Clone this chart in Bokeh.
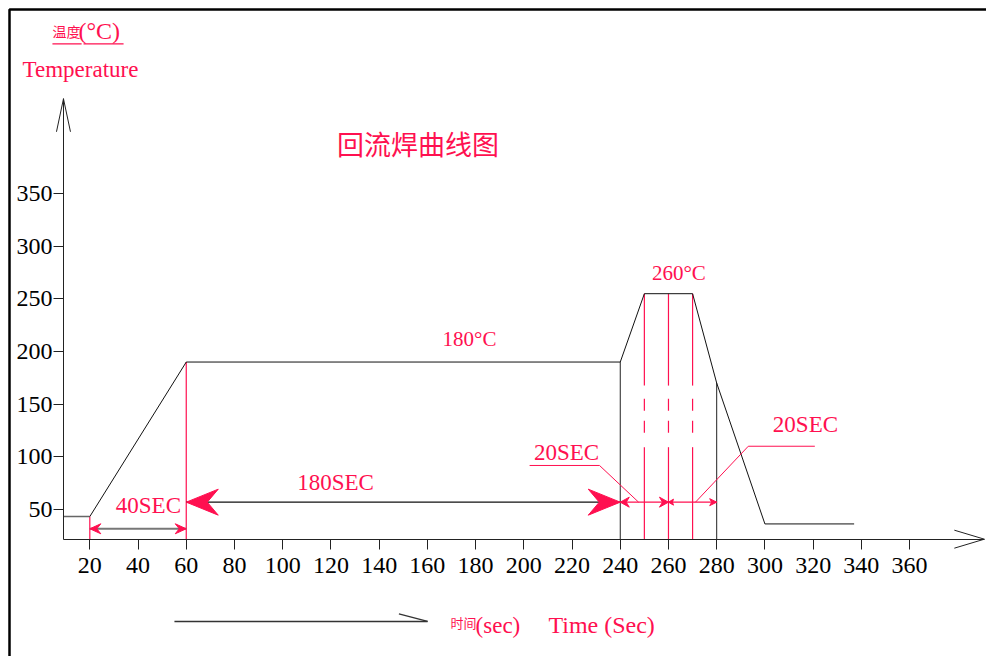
import numpy as np
from bokeh.plotting import figure
from bokeh.models import Range1d, LinearAxis, FixedTicker, ColumnDataSource
from bokeh.core.properties import value
from bokeh.embed import file_html
from bokeh.resources import INLINE

# ---------------- data ----------------
TIME = [9, 20, 60, 240, 250, 270, 280, 300, 337]      # s
TEMP = [43, 43, 190, 190, 255, 255, 170, 36, 36]      # degC
X_TICKS = [20, 40, 60, 80, 100, 120, 140, 160, 180, 200, 220, 240, 260, 280, 300, 320, 340, 360]
Y_TICKS = [50, 100, 150, 200, 250, 300, 350]
RED_MARKS = [20, 60]            # red vertical guide lines
BLACK_MARKS = [240, 280]        # black vertical guide lines
PEAK_MARKS = [250, 260, 270]    # red guide lines through the peak
SPAN_40 = [20, 60]
SPAN_180 = [60, 240]
SPAN_20A = [240, 260]
SPAN_20B = [260, 280]

RED = "#ff1050"
SERIF = "Liberation Serif"
CJK = "Noto Sans CJK SC"

# ---------------- figure ----------------
W, H = 986, 656
X0, X1 = -17.04, 391.9
Y0, Y1 = -90.1, 533.9
SX = W / (X1 - X0)   # px per second
SY = H / (Y1 - Y0)   # px per degree

X_AXIS_AT = 21.5
Y_AXIS_AT = 9.08
X_AXIS_END = 391.0
Y_AXIS_END = 440.4

p = figure(width=W, height=H, x_range=Range1d(X0, X1), y_range=Range1d(Y0, Y1),
           output_backend="svg", toolbar_location=None, min_border=0,
           x_axis_type=None, y_axis_type=None)
p.outline_line_color = None
p.background_fill_color = "white"
p.border_fill_color = "white"

common = dict(major_tick_in=0, major_tick_out=10, minor_tick_in=0, minor_tick_out=0,
              major_label_text_font=SERIF, major_label_text_font_size="24px",
              major_label_text_color="black", axis_line_color="#222",
              major_tick_line_color="#222")
xaxis = LinearAxis(fixed_location=X_AXIS_AT, bounds=(Y_AXIS_AT, X_AXIS_END),
                   ticker=FixedTicker(ticks=X_TICKS), major_label_standoff=9, **common)
yaxis = LinearAxis(fixed_location=Y_AXIS_AT, bounds=(X_AXIS_AT, Y_AXIS_END),
                   ticker=FixedTicker(ticks=Y_TICKS), major_label_standoff=1, **common)
p.add_layout(xaxis, "below")
p.add_layout(yaxis, "left")

# axis arrow heads
p.multi_line(xs=[[Y_AXIS_AT - 7 / SX, Y_AXIS_AT, Y_AXIS_AT + 7 / SX],
                 [X_AXIS_END - 30 / SX, X_AXIS_END, X_AXIS_END - 30 / SX]],
             ys=[[Y_AXIS_END - 33 / SY, Y_AXIS_END, Y_AXIS_END - 33 / SY],
                 [X_AXIS_AT + 9 / SY, X_AXIS_AT, X_AXIS_AT - 9 / SY]],
             line_color="#222", line_width=1)

# page border (top and left)
bx = X0 + 9 / SX
by = Y1 - 9 / SY
p.line([bx, bx, X1], [Y0, by, by], line_color="black", line_width=2.5)

# ---------------- guide lines ----------------
def prof(t):
    return float(np.interp(t, TIME, TEMP))

# red guides at 20 / 60
p.segment(x0=RED_MARKS, y0=[prof(t) for t in RED_MARKS], x1=RED_MARKS,
          y1=[X_AXIS_AT] * len(RED_MARKS), line_color=RED, line_width=1.2)
# black guides at 240 / 280
p.segment(x0=BLACK_MARKS, y0=[prof(t) for t in BLACK_MARKS], x1=BLACK_MARKS,
          y1=[X_AXIS_AT] * len(BLACK_MARKS), line_color="#222", line_width=1)
# peak guides: solid - dashed - solid
top_cut, dash_a, dash_b, bot_cut = 167.6, 155.0, 121.7, 109.0
p.segment(x0=PEAK_MARKS, y0=[prof(t) for t in PEAK_MARKS], x1=PEAK_MARKS,
          y1=[top_cut] * 3, line_color=RED, line_width=1.2)
p.segment(x0=PEAK_MARKS, y0=[bot_cut] * 3, x1=PEAK_MARKS,
          y1=[X_AXIS_AT] * 3, line_color=RED, line_width=1.2)
p.segment(x0=PEAK_MARKS, y0=[dash_a] * 3, x1=PEAK_MARKS,
          y1=[dash_b] * 3, line_color=RED, line_width=1.2, line_dash="12 10")

# ---------------- profile ----------------
p.line(TIME[:2], TEMP[:2], line_color="#666", line_width=1.5)
p.line(TIME[1:], TEMP[1:], line_color="#111", line_width=1)

# ---------------- dimension arrows ----------------
def dart(tx, ty, d, L, Hh, N):
    xs = [tx, tx - d * L / SX, tx - d * N / SX, tx - d * L / SX]
    ys = [ty, ty + Hh / SY, ty, ty - Hh / SY]
    return xs, ys

DIM_LOW = 31.4
DIM_HIGH = 56.7
heads = [
    dart(SPAN_40[0], DIM_LOW, -1, 11, 5, 7),
    dart(SPAN_40[1], DIM_LOW, 1, 11, 5, 7),
    dart(SPAN_180[0], DIM_HIGH, -1, 32, 13, 21),
    dart(SPAN_180[1], DIM_HIGH, 1, 32, 13, 21),
    dart(SPAN_20A[0], DIM_HIGH, -1, 9, 5, 6),
    dart(SPAN_20A[1], DIM_HIGH, 1, 9, 5, 6),
    dart(SPAN_20B[0], DIM_HIGH, -1, 5, 3, 4),
    dart(SPAN_20B[1], DIM_HIGH, 1, 7, 3.5, 5),
]
p.segment(x0=[SPAN_40[0]], y0=[DIM_LOW], x1=[SPAN_40[1]], y1=[DIM_LOW],
          line_color="#777", line_width=2)
p.segment(x0=[SPAN_180[0]], y0=[DIM_HIGH], x1=[SPAN_180[1]], y1=[DIM_HIGH],
          line_color="#111", line_width=1.2)
p.segment(x0=[SPAN_20A[0], SPAN_20B[0]], y0=[DIM_HIGH] * 2,
          x1=[SPAN_20A[1], SPAN_20B[1]], y1=[DIM_HIGH] * 2,
          line_color=RED, line_width=1.2)
p.patches(xs=[h[0] for h in heads], ys=[h[1] for h in heads],
          fill_color=RED, line_color=RED, line_width=1)

# leaders for the 20SEC notes
p.multi_line(xs=[[202.4, 231.4, 247.6], [271.2, 293.1, 320.7]],
             ys=[[91.6, 91.6, DIM_HIGH], [DIM_HIGH, 109.9, 109.9]],
             line_color=RED, line_width=1)

# time axis arrow
p.multi_line(xs=[[55.1, 160.1], [148.2, 160.1]], ys=[[-56.8, -56.8], [-49.5, -56.8]],
             line_color="#333", line_width=1.3)

# degC label underline
p.multi_line(xs=[[4.5, 16.6], [17.4, 34.0]], ys=[[492.7, 492.7], [492.7, 492.7]],
             line_color=RED, line_width=1.3)

# ---------------- texts ----------------
serif_src = ColumnDataSource(dict(
    x=[177.5, 264.3, 44.3, 121.9, 217.7, 316.8],
    y=[211.7, 275.1, 53.8, 75.4, 103.9, 130.8],
    text=["180°C", "260°C", "40SEC", "180SEC", "20SEC", "20SEC"],
    size=["21px", "21px", "23px", "23px", "23px", "23px"],
))
p.text(x="x", y="y", text="text", source=serif_src, text_font=value(SERIF),
       text_font_size="size", text_color=RED, text_align="center",
       text_baseline="alphabetic")

left_src = ColumnDataSource(dict(
    x=[-7.9, 15.3, 180.0, 210.2],
    y=[468.2, 505.3, -60.6, -60.6],
    text=["Temperature", "(°C)", "(sec)", "Time (Sec)"],
    size=["23px", "24px", "23px", "24px"],
))
p.text(x="x", y="y", text="text", source=left_src, text_font=value(SERIF),
       text_font_size="size", text_color=RED, text_align="left",
       text_baseline="alphabetic")

cjk_src = ColumnDataSource(dict(
    x=[4.5, 169.6],
    y=[505.3, -57.8],
    text=["温度", "时间"],
    size=["14px", "13px"],
))
p.text(x="x", y="y", text="text", source=cjk_src, text_font=value(CJK),
       text_font_size="size", text_color=RED, text_align="left",
       text_baseline="middle")

p.text(x=[156.1], y=[398.3], text=["回流焊曲线图"], text_font=value(CJK),
       text_font_size=value("27px"), text_color=RED, text_align="center",
       text_baseline="middle")

open("out.html", "w").write(file_html(p, INLINE))
